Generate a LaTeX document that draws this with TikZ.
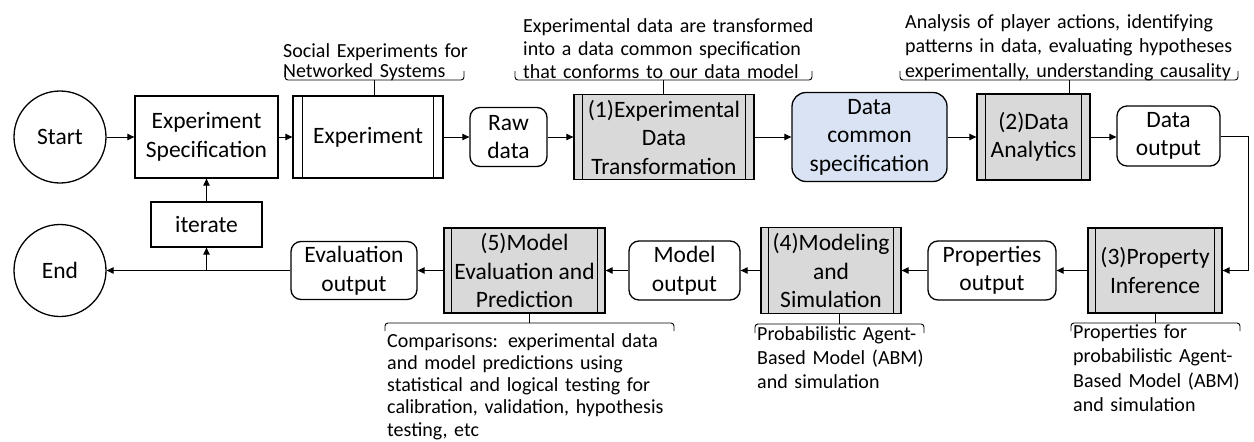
\documentclass[tikz,border=0pt]{standalone}
\usepackage{fontspec}
\setmainfont{Carlito}
\usetikzlibrary{arrows.meta,shapes.geometric}
\definecolor{procgray}{HTML}{D9D9D9}
\definecolor{dcsblue}{HTML}{DAE3F3}
\newcommand\innerlines[2]{\draw[line width=1pt] ([xshift=#2]#1.north west) -- ([xshift=#2]#1.south west) ([xshift=-#2]#1.north east) -- ([xshift=-#2]#1.south east);}
\tikzset{
 box/.style={draw, line width=1.3pt, inner sep=0pt, align=center, font=\fontsize{23.5}{28.5}\selectfont},
 sqbox/.style={box},
 rbox/.style={box, rounded corners=10pt},
 proc/.style={box, fill=procgray},
 term/.style={draw, line width=1.3pt, circle, minimum size=92pt, inner sep=0pt, font=\fontsize{23.5}{28.5}\selectfont},
 flow/.style={line width=0.9pt, -{Triangle[length=7pt,width=6.5pt]}},
 brace/.style={line width=0.9pt, rounded corners=3pt},
 note/.style={anchor=base west, inner sep=0pt, align=left},
}
\begin{document}
\begin{tikzpicture}[x=1pt,y=-1pt]
\useasboundingbox (0,0) rectangle (1254,442);
% top row
\node[term] (start) at (60,137) {Start};
\node[sqbox, minimum width=143pt, minimum height=82pt] (spec) at (206.5,137) {Experiment\\Specification};
\node[sqbox, minimum width=150pt, minimum height=82pt] (exp) at (368,137) {Experiment};
\innerlines{exp}{10pt}
\node[rbox, minimum width=77pt, minimum height=59pt] (raw) at (508.5,137) {Raw\\data};
\node[proc, minimum width=180pt, minimum height=85pt] (t1) at (664,137) {(1)Experimental\\Data\\Transformation};
\innerlines{t1}{9pt}
\node[rbox, fill=dcsblue, rounded corners=14pt, minimum width=155pt, minimum height=89pt] (dcs) at (869.5,137) {Data\\common\\specification};
\node[proc, minimum width=113pt, minimum height=86pt] (t2) at (1033.5,137) {(2)Data\\Analytics};
\innerlines{t2}{9pt}
\node[rbox, minimum width=103pt, minimum height=60pt] (dout) at (1168.5,136) {Data\\output};
% bottom row
\node[term] (end) at (60,270.5) {End};
\node[sqbox, minimum width=111pt, minimum height=45pt] (iter) at (206.5,224.5) {iterate};
\node[rbox, minimum width=126pt, minimum height=58pt] (eout) at (354,270.5) {Evaluation\\output};
\node[proc, minimum width=161pt, minimum height=85pt] (t5) at (524.5,270.5) {(5)Model\\Evaluation and\\Prediction};
\innerlines{t5}{8pt}
\node[rbox, minimum width=111pt, minimum height=59pt] (mout) at (684.5,270.5) {Model\\output};
\node[proc, minimum width=140pt, minimum height=86pt] (t4) at (831,270.5) {(4)Modeling\\and\\Simulation};
\innerlines{t4}{8pt}
\node[rbox, minimum width=128pt, minimum height=59pt] (pout) at (992,270.5) {Properties\\output};
\node[proc, minimum width=134pt, minimum height=85pt] (t3) at (1155,270.5) {(3)Property\\Inference};
\innerlines{t3}{8pt}
% connectors
\draw[flow] (start.east) -- (spec.west);
\draw[flow] (spec.east) -- (exp.west);
\draw[flow] (exp.east) -- (raw.west);
\draw[flow] (raw.east) -- (t1.west);
\draw[flow] (t1.east) -- (dcs.west);
\draw[flow] (dcs.east) -- (t2.west);
\draw[flow] (t2.east) -- (t2.east -| dout.west);
\coordinate (turn) at (1248,200);
\draw[flow] (dout.east) -| (turn) |- (t3.east);
\draw[flow] (t3.west) -- (pout.east);
\draw[flow] (pout.west) -- (t4.east);
\draw[flow] (t4.west) -- (mout.east);
\draw[flow] (mout.west) -- (t5.east);
\draw[flow] (t5.west) -- (eout.east);
\draw[flow] (eout.west) -- (end.east);
\coordinate (junc) at (iter.south |- eout.west);
\draw[flow] (junc) -- (iter.south);
\draw[flow] (iter.north) -- (spec.south);
% top annotations
\draw[brace] (285,71) |- (464,80) -- (464,71);
\draw[line width=0.9pt] (374.5,80) -- (374.5,96);
\node[note, font=\fontsize{20}{20}\selectfont, text width=190pt] (nexp) at (283,57) {Social Experiments for\\Networked Systems};
\draw[brace] (515,71) |- (812,80) -- (812,71);
\draw[line width=0.9pt] (663.5,80) -- (663.5,94.5);
\node[note, font=\fontsize{20}{23}\selectfont, text width=291pt] (nt1) at (523,32) {\makebox[\linewidth][s]{Experimental data are transformed}\\\makebox[\linewidth][s]{into a data common specification}\\that conforms to our data model};
\draw[brace] (900,71) |- (1238,80) -- (1238,71);
\draw[line width=0.9pt] (1069,80) -- (1069,94);
\node[note, font=\fontsize{20}{24.5}\selectfont, text width=345pt] (nt2) at (905,28) {Analysis of player actions, identifying\\patterns in data, evaluating hypotheses\\experimentally, understanding causality};
% bottom annotations
\draw[brace] (385,331) |- (674,323) -- (674,331);
\draw[line width=0.9pt] (529.5,323) -- (529.5,313);
\node[note, font=\fontsize{20}{22.3}\selectfont, text width=283pt] (nt5) at (387,347) {\makebox[\linewidth][s]{Comparisons: experimental data}\\\makebox[\linewidth][s]{and model predictions using}\\\makebox[\linewidth][s]{statistical and logical testing for}\\\makebox[\linewidth][s]{calibration, validation, hypothesis}\\testing, etc};
\draw[brace] (755,333) |- (924,324) -- (924,333);
\draw[line width=0.9pt] (839.5,324) -- (839.5,313.5);
\node[note, font=\fontsize{20}{24}\selectfont, text width=175pt] (nt4) at (757,340) {Probabilistic Agent-\\Based Model (ABM)\\and simulation};
\draw[brace] (1071,331) |- (1240,323) -- (1240,331);
\draw[line width=0.9pt] (1155.5,323) -- (1155.5,313);
\node[note, font=\fontsize{20}{24.5}\selectfont, text width=175pt] (nt3) at (1073,338) {Properties for\\probabilistic Agent-\\Based Model (ABM)\\and simulation};
\end{tikzpicture}
\end{document}
